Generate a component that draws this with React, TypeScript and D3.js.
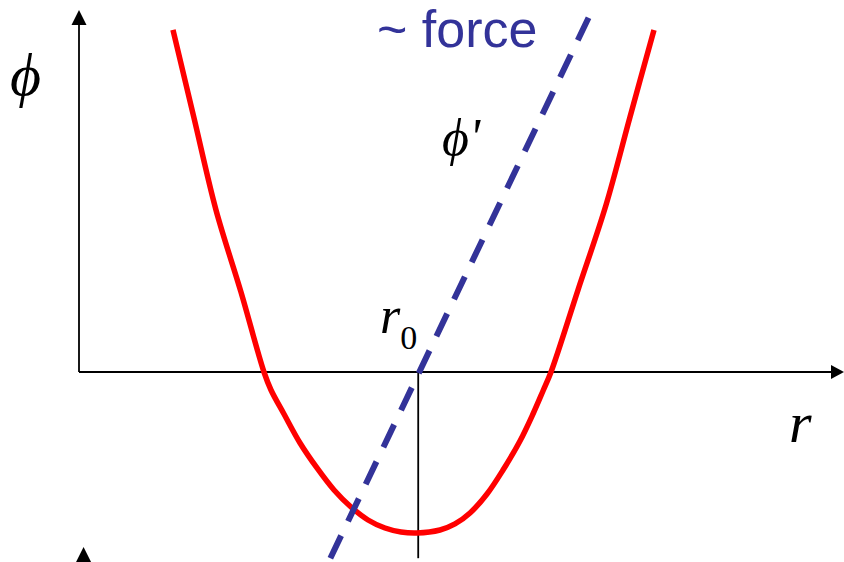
import React from "react";
import * as d3 from "d3";

// potential curve phi(r) (r, phi)
const curveR = [1.23, 1.505, 1.793, 2.12, 2.421, 2.513, 2.683, 2.893, 3.115, 3.338, 3.56, 3.783, 4.005, 4.215, 4.424, 4.725, 4.921, 5.118, 5.34, 5.55, 5.772, 5.942, 6.073, 6.178, 6.531, 6.898, 7.212, 7.526];
const curvePhi = [4.886, 3.629, 2.314, 1.143, 0.0, -0.257, -0.6, -1.014, -1.371, -1.686, -1.929, -2.114, -2.229, -2.286, -2.3, -2.257, -2.171, -2.014, -1.743, -1.4, -0.986, -0.6, -0.271, 0.0, 1.171, 2.386, 3.643, 4.886];
// force line phi' (two end points)
const forceR = [3.29, 6.73];
const forcePhi = [-2.66, 5.2];
const r0 = 4.44;
const rDomain = [0, 10];
const phiDomain = [-2.7, 5.3];
const labels = { phi: "ϕ", phiPrime: "ϕ'", force: "~ force", r: "r", r0: "r", r0sub: "0" };

const W = 844;
const H = 562;

export default function App() {
  const x = d3.scaleLinear().domain(rDomain).range([79, 843]);
  const y = d3.scaleLinear().domain(phiDomain).range([561, 1]);
  const curvePts: [number, number][] = curveR.map((r, i) => [r, curvePhi[i]]);
  const line = d3
    .line<[number, number]>()
    .x((d) => x(d[0]))
    .y((d) => y(d[1]))
    .curve(d3.curveCatmullRom.alpha(0.5));
  const forcePts: [number, number][] = forceR.map((r, i) => [r, forcePhi[i]]);
  const straight = d3
    .line<[number, number]>()
    .x((d) => x(d[0]))
    .y((d) => y(d[1]));
  const x0 = x(0);
  const y0 = y(0);
  const blue = "#333399";
  const serif = "'Liberation Serif', 'Times New Roman', serif";
  return (
    <svg
      width={W}
      height={H}
      style={{ position: "absolute", left: 0, top: 0, display: "block", background: "#fff" }}
    >
      {/* y axis */}
      <line x1={x0} y1={y0} x2={x0} y2={y(5.1)} stroke="#000" strokeWidth={1.8} />
      <path d={`M${x0},${y(5.17)} l-7.5,15 l15,0 z`} fill="#000" />
      {/* x axis */}
      <line x1={x0} y1={y0} x2={x(9.9)} y2={y0} stroke="#000" strokeWidth={1.8} />
      <path d={`M${x(10) + 1},${y0} l-13,-7 l0,14 z`} fill="#000" />
      {/* r0 vertical */}
      <line x1={x(r0)} y1={y0} x2={x(r0)} y2={y(-2.66)} stroke="#000" strokeWidth={1.8} />
      {/* small arrow head at bottom-left */}
      <path d={`M${x(0.06)},${y(-2.5)} l-7.5,15 l15,0 z`} fill="#000" />
      {/* potential */}
      <path d={line(curvePts) || ""} fill="none" stroke="#ff0000" strokeWidth={5.5} />
      {/* force */}
      <path d={straight(forcePts) || ""} fill="none" stroke={blue} strokeWidth={6} strokeDasharray="25 16" />
      {/* labels */}
      <text x={377} y={47} fontFamily="'Liberation Sans', Arial, sans-serif" fontSize={52} fill={blue}>
        {labels.force}
      </text>
      <text x={10} y={95} fontFamily={serif} fontStyle="italic" fontSize={60} fill="#000">
        {labels.phi}
      </text>
      <text x={442} y={155} fontFamily={serif} fontStyle="italic" fontSize={52} fill="#000">
        {labels.phiPrime}
      </text>
      <text x={380} y={333} fontFamily={serif} fontStyle="italic" fontSize={52} fill="#000">
        {labels.r0}
        <tspan fontStyle="normal" fontSize={34} dy={16}>
          {labels.r0sub}
        </tspan>
      </text>
      <text x={789} y={442} fontFamily={serif} fontStyle="italic" fontSize={58} fill="#000">
        {labels.r}
      </text>
    </svg>
  );
}
